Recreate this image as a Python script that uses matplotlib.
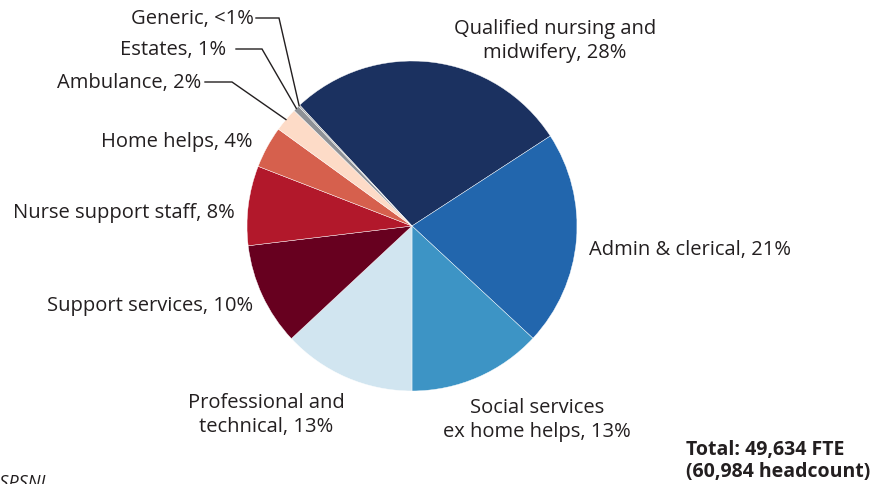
import matplotlib
matplotlib.use("Agg")
import matplotlib.pyplot as plt
import numpy as np

# ---- data ----
categories = ["Qualified nursing and\nmidwifery, 28%", "Admin & clerical, 21%",
              "Social services\nex home helps, 13%", "Professional and\ntechnical, 13%",
              "Support services, 10%", "Nurse support staff, 8%", "Home helps, 4%",
              "Ambulance, 2%", "Estates, 1%", "Generic, <1%"]
shares = [27.75, 21.1, 13.1, 13.05, 10.05, 7.8, 4.1, 2.35, 0.6, 0.15]
colors = ["#1b3160", "#2266ad", "#3d94c5", "#d1e5f0", "#67001f", "#b2182b",
          "#d6604d", "#fddbc7", "#8e9196", "#a6a8ab"]
total_text = "Total: 49,634 FTE\n(60,984 headcount)"
source_text = "Source: DHSSPSNI"

plt.rcParams['font.family'] = ['Open Sans', 'DejaVu Sans']
TXT = "#231f20"
W, H = 883, 485
fig = plt.figure(figsize=(W / 100, H / 100), dpi=100)
ax = fig.add_axes([0, 0, 1, 1])

cx, cy, R = 412, H - 227, 165
wedges, _ = ax.pie(shares, colors=colors, startangle=132.9, counterclock=False,
                   center=(cx, cy), radius=R, frame=True,
                   wedgeprops=dict(edgecolor="white", linewidth=0.3))
ax.set_xlim(0, W)
ax.set_ylim(0, H)
ax.set_aspect("equal")
ax.axis("off")

fs = 14.5
# label layout: (x, y from top, ha, va)
layout = [
    (555, 41, "center", "center"),
    (589, 250, "left", "center"),
    (537, 420, "center", "center"),
    (266, 415, "center", "center"),
    (253, 306, "right", "center"),
    (235, 213, "right", "center"),
    (252, 142, "right", "center"),
    (201, 83, "right", "center"),
    (226, 50, "right", "center"),
    (254, 19, "right", "center"),
]
for lab, (x, y, ha, va) in zip(categories, layout):
    ax.text(x, H - y, lab, ha=ha, va=va, fontsize=fs, color=TXT, linespacing=1.3)

# leader lines for small slices: (start x, elbow x, y)
leaders = {7: (205, 232, 83), 8: (236, 262, 50), 9: (256, 279, 19)}
for i, (x0, x1, y) in leaders.items():
    w = wedges[i]
    mid = np.deg2rad((w.theta1 + w.theta2) / 2)
    ex, ey = cx + R * np.cos(mid), cy + R * np.sin(mid)
    ax.plot([x0, x1, ex], [H - y, H - y, ey], color=TXT, lw=1.0,
            solid_joinstyle="miter")

ax.text(686, H - 461, total_text, ha="left", va="center", fontsize=14,
        color=TXT, fontweight="bold", linespacing=1.15)
ax.text(45, H - 474, source_text, ha="right", va="top", fontsize=13,
        color=TXT, style="italic")

fig.savefig("out.png", dpi=100)
